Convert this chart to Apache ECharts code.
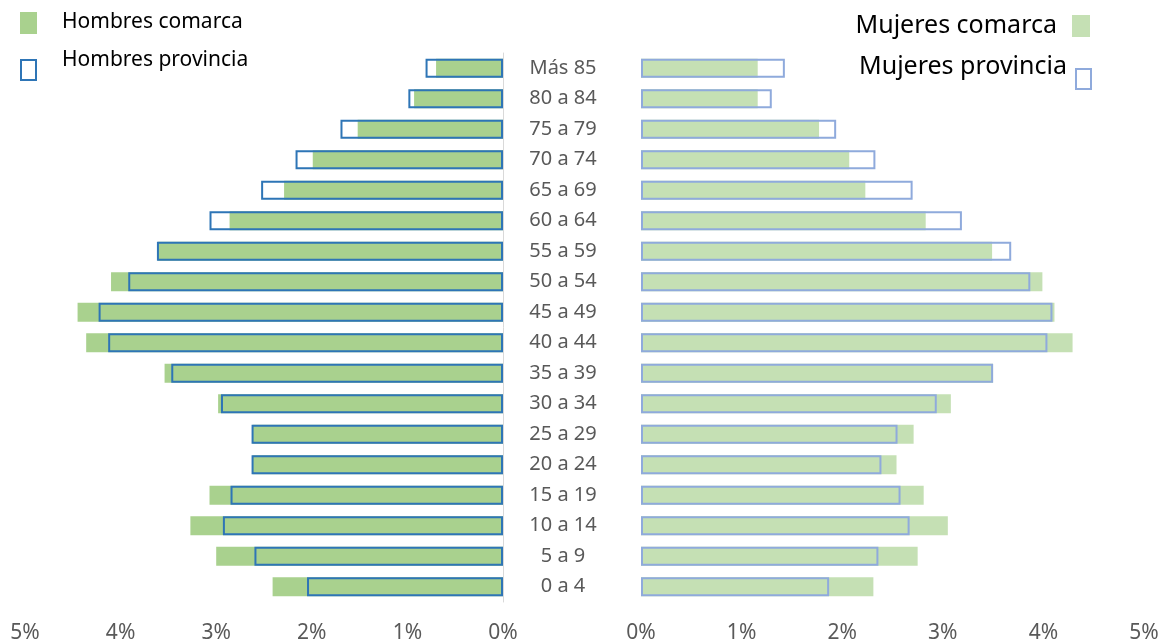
<!DOCTYPE html>
<html>
<head>
<meta charset="utf-8">
<script src="https://cdn.jsdelivr.net/npm/echarts@6/dist/echarts.min.js"></script>
<style>
  html, body { margin: 0; padding: 0; background: #fff; }
  #chart { width: 1163px; height: 644px; }
</style>
</head>
<body>
<div id="chart"></div>
<script>
// grupos de edad, de abajo arriba
const categories = ["0 a 4", "5 a 9", "10 a 14", "15 a 19", "20 a 24", "25 a 29", "30 a 34", "35 a 39",
  "40 a 44", "45 a 49", "50 a 54", "55 a 59", "60 a 64", "65 a 69", "70 a 74", "75 a 79", "80 a 84", "Más 85"];

// % de población
const hombresComarca = [2.41, 3.00, 3.27, 3.07, 2.62, 2.62, 2.98, 3.54, 4.36, 4.45, 4.10, 3.61, 2.86, 2.29, 1.99, 1.52, 0.93, 0.70];
const hombresProvincia = [2.05, 2.60, 2.93, 2.85, 2.63, 2.63, 2.95, 3.47, 4.13, 4.23, 3.92, 3.62, 3.07, 2.53, 2.17, 1.70, 0.99, 0.81];
const mujeresComarca = [2.31, 2.75, 3.05, 2.81, 2.54, 2.71, 3.08, 3.50, 4.29, 4.11, 3.99, 3.49, 2.83, 2.23, 2.07, 1.77, 1.16, 1.16];
const mujeresProvincia = [1.87, 2.36, 2.67, 2.58, 2.39, 2.55, 2.94, 3.50, 4.04, 4.09, 3.87, 3.68, 3.19, 2.70, 2.33, 1.94, 1.30, 1.43];

const FONT = "Noto Sans";
const labelColor = "#595959";

const colors = {
  hombresComarca: "#a9d18e",
  hombresProvincia: "#2e75b6",
  mujeresComarca: "#c5e0b4",
  mujeresProvincia: "#8faadc",
};

const myChart = echarts.init(document.getElementById("chart"));

const valueAxis = (gridIndex, inverse) => ({
  type: "value",
  gridIndex: gridIndex,
  inverse: inverse,
  min: 0,
  max: 5,
  interval: 1,
  axisLine: { show: false },
  axisTick: { show: false },
  splitLine: { show: false },
  axisLabel: {
    formatter: "{value}%",
    color: labelColor,
    fontFamily: FONT,
    fontSize: 21,
    margin: 21,
  },
});

// leyenda dibujada a mano (icono + texto)
const legendText = (text, x, y, size, align) => ({
  type: "text",
  x: x,
  y: y,
  style: {
    text: text,
    fill: "#000",
    font: size + "px '" + FONT + "'",
    align: align,
    verticalAlign: "middle",
  },
});

const option = {
  animation: false,
  textStyle: { fontFamily: FONT },
  grid: [
    { left: 25, right: 660, top: 53, bottom: 42 }, // hombres
    { left: 641, right: 19, top: 53, bottom: 42 }, // mujeres
  ],
  graphic: [
    { type: "rect", shape: { x: 20, y: 12, width: 17, height: 22 }, style: { fill: colors.hombresComarca } },
    legendText("Hombres comarca", 62, 22, 21, "left"),
    { type: "rect", shape: { x: 21, y: 60, width: 15, height: 20 }, style: { fill: "none", stroke: colors.hombresProvincia, lineWidth: 2 } },
    legendText("Hombres provincia", 62, 60, 21, "left"),
    { type: "rect", shape: { x: 1072, y: 15, width: 18, height: 22 }, style: { fill: colors.mujeresComarca } },
    legendText("Mujeres comarca", 1057, 26, 25, "right"),
    { type: "rect", shape: { x: 1076, y: 69, width: 15, height: 20 }, style: { fill: "none", stroke: colors.mujeresProvincia, lineWidth: 2 } },
    legendText("Mujeres provincia", 1067, 67, 25, "right"),
  ],
  xAxis: [valueAxis(0, true), valueAxis(1, false)],
  yAxis: [
    {
      type: "category",
      gridIndex: 0,
      position: "right",
      data: categories,
      axisLine: { show: true, lineStyle: { color: "#d9d9d9", width: 1 } },
      axisTick: { show: false },
      axisLabel: {
        color: labelColor,
        fontFamily: FONT,
        fontSize: 20,
        align: "center",
        margin: 60,
      },
    },
    {
      type: "category",
      gridIndex: 1,
      data: categories,
      axisLine: { show: false },
      axisTick: { show: false },
      axisLabel: { show: false },
    },
  ],
  series: [
    {
      name: "Hombres comarca",
      type: "bar",
      xAxisIndex: 0, yAxisIndex: 0,
      data: hombresComarca,
      barWidth: 19,
      itemStyle: { color: colors.hombresComarca },
    },
    {
      name: "Hombres provincia",
      type: "bar",
      xAxisIndex: 0, yAxisIndex: 0,
      data: hombresProvincia,
      barWidth: 19,
      barGap: "-100%",
      z: 3,
      itemStyle: { color: "rgba(255,255,255,0)", borderColor: colors.hombresProvincia, borderWidth: 2 },
    },
    {
      name: "Mujeres comarca",
      type: "bar",
      xAxisIndex: 1, yAxisIndex: 1,
      data: mujeresComarca,
      barWidth: 19,
      itemStyle: { color: colors.mujeresComarca },
    },
    {
      name: "Mujeres provincia",
      type: "bar",
      xAxisIndex: 1, yAxisIndex: 1,
      data: mujeresProvincia,
      barWidth: 19,
      barGap: "-100%",
      z: 3,
      itemStyle: { color: "rgba(255,255,255,0)", borderColor: colors.mujeresProvincia, borderWidth: 2 },
    },
  ],
};

myChart.setOption(option);
</script>
</body>
</html>
